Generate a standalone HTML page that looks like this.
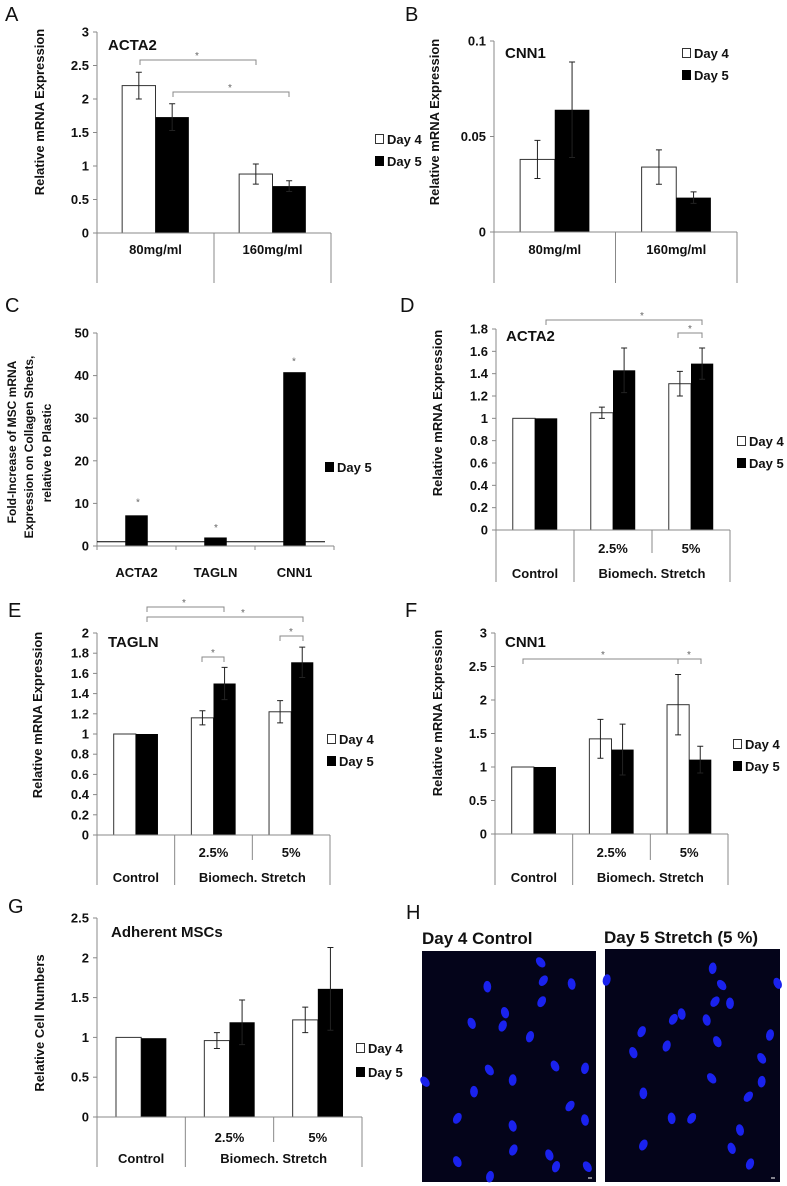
<!DOCTYPE html>
<html><head><meta charset="utf-8"><style>
html,body{margin:0;padding:0;background:#fff}
svg{display:block;font-family:"Liberation Sans",Arial,sans-serif}
.tk{font-size:13px;font-weight:bold;fill:#111}
.ttl{font-size:15px;font-weight:bold;fill:#111}
.lt{font-size:20px;fill:#111}
.st{font-size:10px;fill:#666}
</style></head><body>
<svg id="fig" width="787" height="1186" viewBox="0 0 787 1186" xmlns="http://www.w3.org/2000/svg"></svg>
<script>
// ---------- data ----------
const catsAB = ["80mg/ml","160mg/ml"];
const ticksA = [0,0.5,1,1.5,2,2.5,3];
const tickLabelsA = ["0","0.5","1","1.5","2","2.5","3"];
const A_day4 = [2.2,0.88];
const A_day4err = [0.2,0.15];
const A_day5 = [1.73,0.7];
const A_day5err = [0.2,0.08];

const ticksB = [0,0.05,0.1];
const tickLabelsB = ["0","0.05","0.1"];
const B_day4 = [0.038,0.034];
const B_day4err = [0.01,0.009];
const B_day5 = [0.064,0.018];
const B_day5err = [0.025,0.003];

const catsC = ["ACTA2","TAGLN","CNN1"];
const ticksC = [0,10,20,30,40,50];
const tickLabelsC = ["0","10","20","30","40","50"];
const C_day5 = [7.2,2.0,40.8];

const catsStretch = ["Control","2.5%","5%"];
const ticksD = [0,0.2,0.4,0.6,0.8,1,1.2,1.4,1.6,1.8];
const tickLabelsD = ["0","0.2","0.4","0.6","0.8","1","1.2","1.4","1.6","1.8"];
const D_day4 = [1,1.05,1.31];
const D_day4err = [0,0.05,0.11];
const D_day5 = [1,1.43,1.49];
const D_day5err = [0,0.2,0.14];

const ticksE = [0,0.2,0.4,0.6,0.8,1,1.2,1.4,1.6,1.8,2];
const tickLabelsE = ["0","0.2","0.4","0.6","0.8","1","1.2","1.4","1.6","1.8","2"];
const E_day4 = [1,1.16,1.22];
const E_day4err = [0,0.07,0.11];
const E_day5 = [1,1.5,1.71];
const E_day5err = [0,0.16,0.15];

const ticksF = [0,0.5,1,1.5,2,2.5,3];
const tickLabelsF = ["0","0.5","1","1.5","2","2.5","3"];
const F_day4 = [1,1.42,1.93];
const F_day4err = [0,0.29,0.45];
const F_day5 = [1,1.26,1.11];
const F_day5err = [0,0.38,0.2];

const ticksG = [0,0.5,1,1.5,2,2.5];
const tickLabelsG = ["0","0.5","1","1.5","2","2.5"];
const G_day4 = [1,0.96,1.22];
const G_day4err = [0,0.1,0.16];
const G_day5 = [0.99,1.19,1.61];
const G_day5err = [0,0.28,0.52];

// ---------- helpers ----------
const NS="http://www.w3.org/2000/svg";
const svg=document.getElementById('fig');
function mk(tag,attrs,parent){const e=document.createElementNS(NS,tag);for(const k in attrs)e.setAttribute(k,attrs[k]);(parent||svg).appendChild(e);return e;}
function txt(x,y,s,cls,anchor,parent){const t=mk('text',{x:x,y:y,'class':cls,'text-anchor':anchor||'start'},parent);t.textContent=s;return t;}

function panel(name,L,ticks,tickLabels,cats,s4,e4,s5,e5){
  const g=mk('g',{});
  
  
  const ys=v=>L.y0-v*(L.y0-L.top)/L.max;
  const n=cats.length, cw=(L.end-L.ax)/n, bw=cw*0.285;
  const ya=mk('line',{x1:L.ax,y1:L.top,x2:L.ax,y2:L.y0,stroke:'#888','stroke-width':1},g);
  
  
  ticks.forEach((t,i)=>{
    const y=ys(t);
    mk('line',{x1:L.ax-4,y1:y,x2:L.ax,y2:y,stroke:'#888'},g);
    const tl=txt(L.ax-8,y+4.5,tickLabels[i],'tk','end',g);
    
    
  });
  for(let i=0;i<n;i++){
    const c=L.ax+cw*(i+0.5);
    if(s4){
      const r=mk('rect',{x:c-bw,y:ys(s4[i]),width:bw,height:L.y0-ys(s4[i]),fill:'#fff',stroke:'#333','stroke-width':1},g);
      
      
      if(e4&&e4[i]>0){const x=c-bw/2;mk('path',{d:`M${x},${ys(s4[i]-e4[i])}V${ys(s4[i]+e4[i])}M${x-3},${ys(s4[i]-e4[i])}h6M${x-3},${ys(s4[i]+e4[i])}h6`,stroke:'#222',fill:'none'},g);}
    }
    const bx=s4?c:c-bw/2;
    const r5=mk('rect',{x:bx,y:ys(s5[i]),width:bw,height:L.y0-ys(s5[i]),fill:'#000'},g);
    
    
    if(e5&&e5[i]>0){const x=bx+bw/2;mk('path',{d:`M${x},${ys(s5[i]-e5[i])}V${ys(s5[i]+e5[i])}M${x-3},${ys(s5[i]-e5[i])}h6M${x-3},${ys(s5[i]+e5[i])}h6`,stroke:'#222',fill:'none'},g);}
  }
  const xa=mk('line',{x1:L.ax,y1:L.y0,x2:L.end,y2:L.y0,stroke:'#888'},g);
  
  
  if(L.mode==='single'){
    for(let i=0;i<=n;i++){const x=L.ax+cw*i;mk('line',{x1:x,y1:L.y0,x2:x,y2:L.divB,stroke:'#888'},g);}
    cats.forEach((c,i)=>{const t=txt(L.ax+cw*(i+0.5),L.labY,c,'tk','middle',g);});
  } else if(L.mode==='ticks'){
    for(let i=0;i<=n;i++){const x=L.ax+cw*i;mk('line',{x1:x,y1:L.y0,x2:x,y2:L.y0+4,stroke:'#888'},g);}
    cats.forEach((c,i)=>{const t=txt(L.ax+cw*(i+0.5),L.labY,c,'tk','middle',g);});
  } else {
    [0,1,3].forEach(i=>{const x=L.ax+cw*i;mk('line',{x1:x,y1:L.y0,x2:x,y2:L.divB,stroke:'#888'},g);});
    mk('line',{x1:L.ax+cw*2,y1:L.y0,x2:L.ax+cw*2,y2:L.shortB,stroke:'#888'},g);
    for(let i=1;i<3;i++){const t=txt(L.ax+cw*(i+0.5),L.row1,cats[i],'tk','middle',g);}
    const t0=txt(L.ax+cw*0.5,L.row2,cats[0],'tk','middle',g);
    
    
    const t1=txt(L.ax+cw*2,L.row2,'Biomech. Stretch','tk','middle',g);
    
    
  }
  return g;
}
function legend(x,y1,y2,both){
  const g=mk('g',{});
  
  
  if(both){
    mk('rect',{x:x+0.5,y:y1-4.5,width:8,height:9,fill:'#fff',stroke:'#333'},g);
    const t=txt(x+12,y1+5,'Day 4','tk','start',g);
    
    
  }
  mk('rect',{x:x,y:y2-5,width:9,height:10,fill:'#000'},g);
  const t2=txt(x+12,y2+5,'Day 5','tk','start',g);
  
  
}
function ytitle(x,y,s,cls){const t=mk('text',{x:0,y:0,'class':cls||'tk','text-anchor':'middle',transform:`translate(${x},${y}) rotate(-90)`});t.textContent=s;return t;}
function bracket(x1,x2,y,sx){
  const p=mk('path',{d:`M${x1},${y+5}V${y}H${x2}V${y+5}`,stroke:'#888',fill:'none'});
  
  
  const s=txt(sx,y-1,'*','st','middle');
  
  
}
function letter(x,y,s){const t=txt(x,y,s,'lt');}
function title(x,y,s){const t=txt(x,y,s,'ttl');}

// ---------- Panel A ----------
letter(5,21,'A');
panel('panel-a-chart',{ax:97,end:331,y0:233,top:32,max:3,mode:'single',divB:283,labY:254},ticksA,tickLabelsA,catsAB,A_day4,A_day4err,A_day5,A_day5err);
title(108,50,'ACTA2');
let yt=ytitle(44,112,'Relative mRNA Expression');


bracket(140,256,60,197);
bracket(173,289,92,230);
legend(375,139,161,true);

// ---------- Panel B ----------
letter(405,21,'B');
panel('panel-b-chart',{ax:494,end:737,y0:232,top:41,max:0.1,mode:'single',divB:283,labY:254},ticksB,tickLabelsB,catsAB,B_day4,B_day4err,B_day5,B_day5err);
title(505,58,'CNN1');
yt=ytitle(439,122,'Relative mRNA Expression');


legend(682,53,75,true);

// ---------- Panel C ----------
letter(5,312,'C');
panel('panel-c-chart',{ax:97,end:334,y0:546,top:333,max:50,mode:'ticks',labY:577},ticksC,tickLabelsC,catsC,null,null,C_day5,null);
const baseY=546-1*(546-333)/50;
const bl=mk('line',{x1:97,y1:baseY,x2:325,y2:baseY,stroke:'#000'});


[[138,10.5],[216,4.5],[294,43.5]].forEach(p=>{const s=txt(p[0],546-p[1]*(546-333)/50+4,'*','st','middle');});
[['Fold-Increase of MSC mRNA',16,442],['Expression on Collagen Sheets,',33,447],['relative to Plastic',51,453]].forEach(l=>{const t=ytitle(l[1],l[2],l[0],'');t.setAttribute('style','font-size:12px;fill:#111');});
legend(325,467,467,false);

// ---------- Panel D ----------
letter(400,312,'D');
panel('panel-d-chart',{ax:496,end:730,y0:530,top:329,max:1.8,mode:'double',divB:582,shortB:553,row1:553,row2:578},ticksD,tickLabelsD,catsStretch,D_day4,D_day4err,D_day5,D_day5err);
title(506,341,'ACTA2');
yt=ytitle(442,413,'Relative mRNA Expression');


bracket(546,702,320,642);
bracket(678,702,333,690);
legend(737,441,463,true);

// ---------- Panel E ----------
letter(8,617,'E');
panel('panel-e-chart',{ax:97,end:330,y0:835,top:633,max:2,mode:'double',divB:885,shortB:860,row1:857,row2:882},ticksE,tickLabelsE,catsStretch,E_day4,E_day4err,E_day5,E_day5err);
title(108,647,'TAGLN');
yt=ytitle(42,715,'Relative mRNA Expression');


bracket(147,224,607,184);
bracket(147,303,617,243);
bracket(202,224,657,213);
bracket(280,303,636,291);
legend(327,739,761,true);

// ---------- Panel F ----------
letter(405,617,'F');
panel('panel-f-chart',{ax:495,end:728,y0:834,top:633,max:3,mode:'double',divB:885,shortB:860,row1:857,row2:882},ticksF,tickLabelsF,catsStretch,F_day4,F_day4err,F_day5,F_day5err);
title(505,647,'CNN1');
yt=ytitle(442,713,'Relative mRNA Expression');


bracket(523,678,659,603);
bracket(678,701,659,689);
legend(733,744,766,true);

// ---------- Panel G ----------
letter(8,913,'G');
panel('panel-g-chart',{ax:97,end:362,y0:1117,top:918,max:2.5,mode:'double',divB:1167,shortB:1142,row1:1142,row2:1163},ticksG,tickLabelsG,catsStretch,G_day4,G_day4err,G_day5,G_day5err);
title(111,937,'Adherent MSCs');
yt=ytitle(44,1023,'Relative Cell Numbers');


legend(356,1048,1072,true);

// ---------- Panel H ----------
letter(406,919,'H');
const h1=txt(422,944,'Day 4 Control','ttl');
h1.setAttribute('style','font-size:17px');


const h2=txt(604,943,'Day 5 Stretch (5 %)','ttl');
h2.setAttribute('style','font-size:17px');


const im1=mk('rect',{x:422,y:951,width:174,height:231,fill:'#04041a'});


const im2=mk('rect',{x:605,y:949,width:175,height:233,fill:'#04041a'});


const cells=[[422,247],[262,320],[430,302],[515,312],[425,365],[315,398],[308,438],[215,430],[390,470],[465,558],[555,565],[268,570],[338,600],[75,605],[222,635],[510,678],[555,720],[172,715],[338,738],[340,810],[448,825],[468,860],[172,845],[270,890],[562,860],
[938,265],[965,315],[990,370],[945,365],[845,402],[820,418],[920,420],[725,455],[700,518],[800,498],[952,485],[1110,465],[1085,535],[1085,605],[935,595],[730,640],[1045,650],[815,715],[875,715],[1020,750],[730,795],[995,805],[1050,852],[1133,310],[620,300]];
cells.forEach((c,i)=>{
  const e=mk('ellipse',{cx:400+c[0]/3,cy:880+c[1]/3,rx:3.9,ry:5.8,fill:'#1a22ee',transform:`rotate(${(i*37)%80-40} ${400+c[0]/3} ${880+c[1]/3})`});
  
  
});
mk('line',{x1:588,y1:1178,x2:592,y2:1178,stroke:'#fff'});
mk('line',{x1:771,y1:1178,x2:775,y2:1178,stroke:'#fff'});
</script>
</body></html>
